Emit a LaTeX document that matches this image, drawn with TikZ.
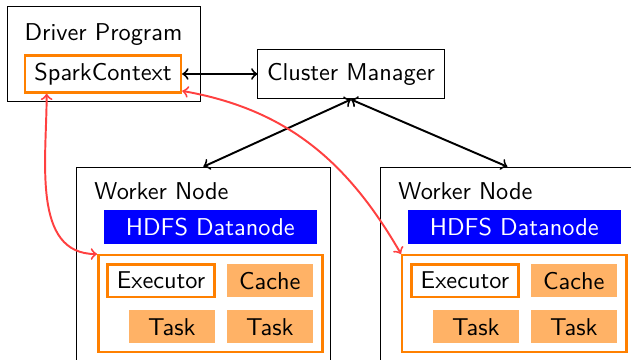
\documentclass[tikz,border=0pt]{standalone}
\usetikzlibrary{arrows}

\begin{document}
\begin{tikzpicture}[>=to,font=\sffamily,
	frame/.style={draw,inner sep=0pt},
	orangebox/.style={draw=orange,line width=1pt,inner sep=0pt},
	slot/.style={fill=orange!60,inner sep=0pt,minimum width=1.238cm,minimum height=0.475cm},
	hdfsbox/.style={fill=blue,text=white,inner sep=0pt,minimum width=3.073cm,minimum height=0.483cm},
	link/.style={<->,line width=0.8pt},
	rpc/.style={<->,color=red!75,line width=0.8pt}]

\useasboundingbox (0,0) rectangle (9.115,5.2);

% driver and cluster manager
\node (driver) at (1.495,4.413) [frame,minimum width=2.788cm,minimum height=1.372cm] {};
\node at (1.495,4.608) [anchor=base,inner sep=0pt] {Driver Program};
\node (sc) at (1.488,4.131) [orangebox,minimum width=2.253cm,minimum height=0.534cm] {SparkContext};
\node (cm) at (5.070,4.131) [frame,minimum width=2.687cm,minimum height=0.722cm] {Cluster Manager};

\draw[link] (sc.east)--(cm.west);

% the two workers
\foreach \i/\dx in {1/0,2/4.391}{
	\node (worker\i) at ({2.938+\dx},2.792) [frame,anchor=north,minimum width=3.679cm,minimum height=3.0cm] {};
	\node at ({1.358+\dx},2.311) [anchor=base west,inner sep=0pt] {Worker Node};
	\node (hdfs\i) at ({3.038+\dx},1.921) [hdfsbox] {HDFS Datanode};
	\node (pool\i) at ({3.038+\dx},0.812) [orangebox,minimum width=3.236cm,minimum height=1.401cm] {};
	\node (exec\i) at ({2.326+\dx},1.146) [orangebox,fill=white,minimum width=1.541cm,minimum height=0.472cm] {Executor};
	\node (cache\i) at ({3.897+\dx},1.146) [slot] {Cache};
	\node (taska\i) at ({2.482+\dx},0.480) [slot] {Task};
	\node (taskb\i) at ({3.897+\dx},0.480) [slot] {Task};
	\draw[link] (cm.south)--(worker\i.north);
}

\draw[rpc] ([xshift=0.33cm]sc.south west) to[out=-90,in=180] (pool1.north west);
\draw[rpc] ([yshift=0.04cm]sc.south east) to[out=-10,in=120] (pool2.north west);

\end{tikzpicture}
\end{document}
